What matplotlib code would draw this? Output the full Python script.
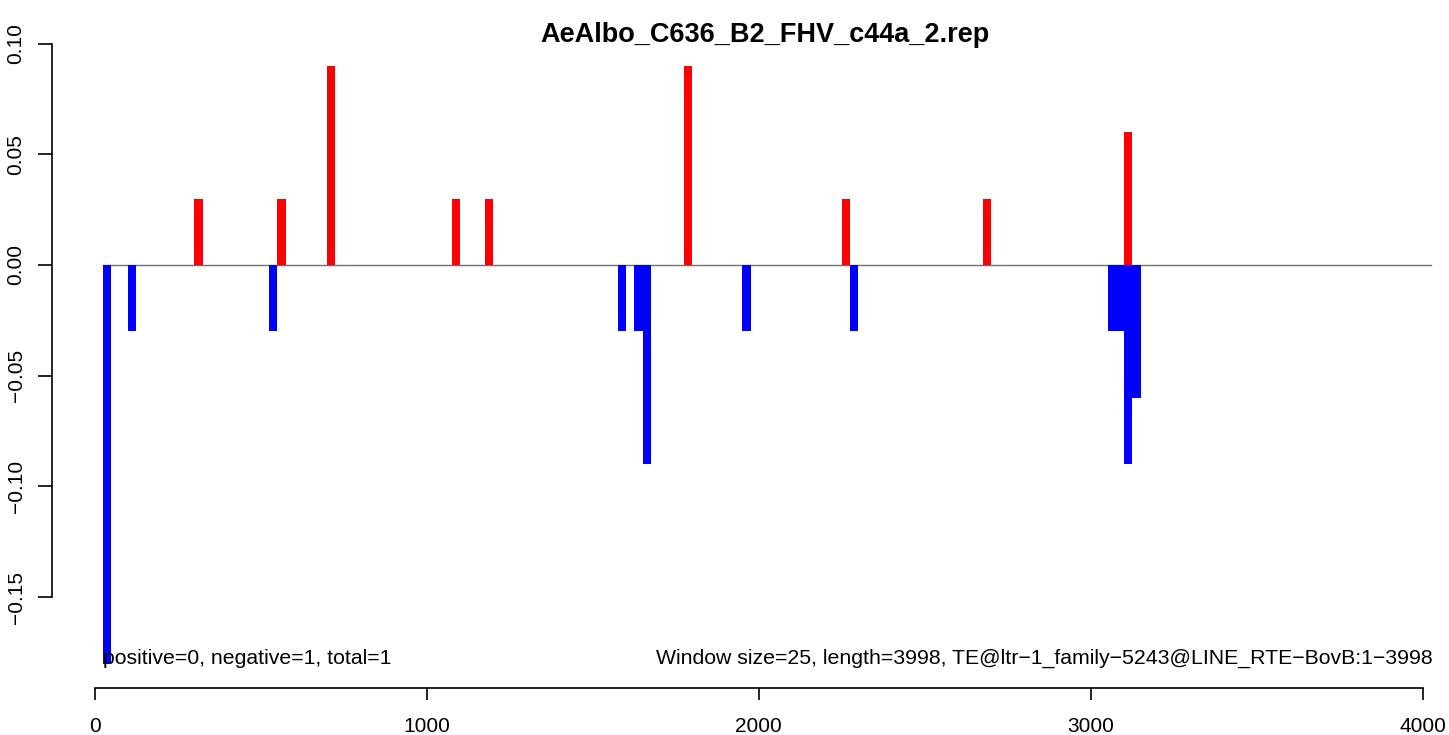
import matplotlib
matplotlib.use("Agg")
import matplotlib.pyplot as plt

plt.rcParams['font.family'] = ['Liberation Sans', 'DejaVu Sans']

title = "AeAlbo_C636_B2_FHV_c44a_2.rep"
window = 25

# window start positions and scores
pos_start = [300, 550, 700, 1075, 1175, 1775, 2250, 2675, 3100]
pos_value = [0.03, 0.03, 0.09, 0.03, 0.03, 0.09, 0.03, 0.03, 0.06]
neg_start = [25, 100, 525, 1575, 1625, 1650, 1950, 2275, 3050, 3075, 3100, 3125]
neg_value = [-0.18, -0.03, -0.03, -0.03, -0.03, -0.09, -0.03, -0.03,
             -0.03, -0.03, -0.09, -0.06]

xticks = [0, 1000, 2000, 3000, 4000]
yticks = [-0.15, -0.10, -0.05, 0.00, 0.05, 0.10]
left_note = "positive=0, negative=1, total=1"
right_note = "Window size=25, length=3998, TE@ltr\u22121_family\u22125243@LINE_RTE\u2212BovB:1\u22123998"

W, H = 1449, 735
fig = plt.figure(figsize=(W / 100, H / 100), dpi=100)
# axes box in pixels: left spine at 52, bottom spine at 688
ax = fig.add_axes([52 / W, 1 - 688 / H, (1440 - 52) / W, (688 - 30) / H])

px_x = 0.33208  # px per data unit in x
px_y = 2214.0   # px per data unit in y
ax.set_xlim((52 - 94.7) / px_x, (1440 - 94.7) / px_x)
ax.set_ylim(-(688 - 265) / px_y, (265 - 30) / px_y)

ax.plot([25, 4025], [0, 0], color='#707070', lw=1, zorder=1)
ax.bar(neg_start, neg_value, width=window, align='edge', color='blue', lw=0, zorder=2)
ax.bar(pos_start, pos_value, width=window, align='edge', color='red', lw=0, zorder=2)

for s in ['top', 'right']:
    ax.spines[s].set_visible(False)
ax.spines['left'].set_bounds(-0.15, 0.10)
ax.spines['bottom'].set_bounds(0, 4000)
for s in ['left', 'bottom']:
    ax.spines[s].set_linewidth(1.2)

ax.set_xticks(xticks)
ax.set_xticklabels([str(t) for t in xticks])
ax.set_yticks(yticks)
ax.set_yticklabels(["%.2f" % t if t >= 0 else "\u2212%.2f" % -t for t in yticks],
                   rotation=90, va='center')
ax.tick_params(axis='both', labelsize=15, width=1.2, direction='out')
ax.tick_params(axis='x', length=8.6, pad=12.5)
ax.tick_params(axis='y', length=10, pad=9)

ax.text(25, -0.18, left_note, fontsize=15.3, ha='left', va='baseline')
ax.text(4028, -0.18, right_note, fontsize=15.3, ha='right', va='baseline')

fig.text(765 / W, 1 - 42 / H, title, fontsize=19.5, fontweight='bold',
         ha='center', va='baseline')

fig.savefig("out.png", dpi=100, facecolor='white')
